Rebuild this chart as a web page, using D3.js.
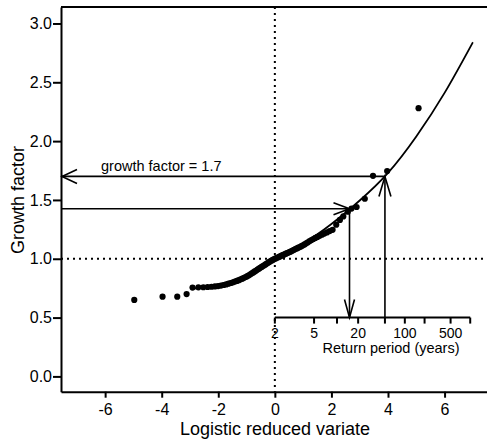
<!DOCTYPE html>
<html>
<head>
<meta charset="utf-8">
<script src="https://cdn.jsdelivr.net/npm/d3@7"></script>
<style>
  html, body { margin: 0; padding: 0; background: #fff; }
  svg { display: block; font-family: "Liberation Sans", Arial, Helvetica, sans-serif; }
</style>
</head>
<body>
<svg id="chart" width="487" height="440"></svg>
<script>
// Sample growth factors plotted against the logistic reduced variate
const obsX = [
  -4.97, -3.97, -3.45, -3.12,
  -2.910, -2.703, -2.528, -2.376, -2.241, -2.119, -2.008, -1.906, -1.811, -1.722,
  -1.638, -1.558, -1.483, -1.411, -1.342, -1.275, -1.211, -1.150, -1.090, -1.032,
  -0.975, -0.920, -0.866, -0.813, -0.761, -0.711, -0.661, -0.612, -0.563, -0.516,
  -0.468, -0.422, -0.375, -0.330, -0.284, -0.239, -0.194, -0.149, -0.105, -0.060,
  -0.016, 0.029, 0.073, 0.118, 0.163, 0.207, 0.252, 0.298, 0.343, 0.389,
  0.436, 0.483, 0.530, 0.578, 0.626, 0.676, 0.726, 0.777, 0.829, 0.882,
  0.936, 0.992, 1.049, 1.108, 1.168, 1.230, 1.295, 1.362, 1.432, 1.505,
  1.582, 1.662, 1.748, 1.839, 1.936, 2.041,
  2.17, 2.30, 2.42, 2.58, 2.71, 2.89, 3.18, 3.47, 3.97, 5.08
];
const obsY = [
  0.650, 0.678, 0.678, 0.700,
  0.755, 0.757, 0.758, 0.760, 0.762, 0.765, 0.768, 0.772, 0.777, 0.782,
  0.788, 0.794, 0.800, 0.806, 0.812, 0.818, 0.825, 0.831, 0.838, 0.845,
  0.852, 0.860, 0.868, 0.876, 0.884, 0.892, 0.900, 0.908, 0.916, 0.923,
  0.931, 0.938, 0.945, 0.952, 0.959, 0.966, 0.973, 0.980, 0.986, 0.992,
  0.998, 1.003, 1.008, 1.013, 1.018, 1.023, 1.028, 1.033, 1.038, 1.043,
  1.048, 1.053, 1.058, 1.064, 1.070, 1.076, 1.082, 1.088, 1.094, 1.100,
  1.107, 1.114, 1.122, 1.131, 1.140, 1.150, 1.159, 1.168, 1.177, 1.186,
  1.195, 1.204, 1.214, 1.224, 1.235, 1.246,
  1.290, 1.330, 1.360, 1.400, 1.427, 1.440, 1.510, 1.705, 1.745, 2.280
];

// Fitted growth curve
const fitX = [-2.9, -2, -1, 0, 1, 2, 3, 4, 5, 6, 7];
const fitY = [0.745, 0.78, 0.862, 1.0, 1.13, 1.295, 1.495, 1.73, 2.04, 2.41, 2.84];

// Axis ticks
const xTicks = [-6, -4, -2, 0, 2, 4, 6];
const yTicks = [0, 0.5, 1.0, 1.5, 2.0, 2.5, 3.0];
const returnTicks = [2, 5, 10, 20, 50, 100, 200, 500, 1000];
const returnLabels = [2, 5, 20, 100, 500];

// Read-off examples: return period (years) and growth factor
const readPeriods = [15, 50];
const readFactors = [1.425, 1.7];
const readNote = "growth factor = 1.7";

const svg = d3.select("#chart");
const plotL = 61, plotR = 487, plotT = 7, plotB = 391.7;

const x = d3.scaleLinear().domain([-7.56, 7.5]).range([plotL, plotR]);
const y = d3.scaleLinear().domain([-0.13, 3.14]).range([plotB, plotT]);
// return period T maps onto the logistic reduced variate ln(T - 1)
const xT = T => x(Math.log(T - 1));

// frame top
svg.append("line")
  .attr("x1", plotL).attr("x2", plotR + 2).attr("y1", plotT).attr("y2", plotT)
  .attr("stroke", "#000").attr("stroke-width", 2);

// reference lines at variate 0 and growth factor 1
svg.append("line")
  .attr("x1", x(0)).attr("x2", x(0)).attr("y1", plotT).attr("y2", plotB)
  .attr("stroke", "#000").attr("stroke-width", 2).attr("stroke-dasharray", "2,4");
svg.append("line")
  .attr("x1", plotL).attr("x2", plotR).attr("y1", y(1)).attr("y2", y(1))
  .attr("stroke", "#000").attr("stroke-width", 2).attr("stroke-dasharray", "2,4");

// axes
const yAxis = svg.append("g").attr("transform", `translate(${plotL},0)`)
  .call(d3.axisLeft(y).tickValues(yTicks).tickFormat(d3.format(".1f"))
    .tickSize(8).tickSizeOuter(0).tickPadding(1));
const xAxis = svg.append("g").attr("transform", `translate(0,${plotB})`)
  .call(d3.axisBottom(x).tickValues(xTicks).tickFormat(d => d)
    .tickSize(6).tickSizeOuter(0).tickPadding(6));
[yAxis, xAxis].forEach(g => {
  g.select(".domain").attr("stroke-width", 2);
  g.selectAll(".tick line").attr("stroke-width", 2);
  g.selectAll(".tick text").attr("font-size", 16).attr("fill", "#000")
    .attr("font-family", "Liberation Sans, Arial, sans-serif");
});

// axis titles
svg.append("text")
  .attr("x", 275).attr("y", 435).attr("text-anchor", "middle")
  .attr("font-size", 18).text("Logistic reduced variate");
svg.append("text")
  .attr("transform", "translate(24,200) rotate(-90)")
  .attr("text-anchor", "middle").attr("font-size", 18).text("Growth factor");

// fitted curve
const line = d3.line().x(d => x(d[0])).y(d => y(d[1])).curve(d3.curveNatural);
svg.append("path")
  .datum(fitX.map((v, i) => [v, fitY[i]]))
  .attr("d", line).attr("fill", "none").attr("stroke", "#000").attr("stroke-width", 1.8);

// observations
svg.append("g").selectAll("circle")
  .data(obsX.map((v, i) => [v, obsY[i]]))
  .join("circle")
  .attr("cx", d => x(d[0])).attr("cy", d => y(d[1])).attr("r", 3.1).attr("fill", "#000");

// return period scale, drawn at growth factor 0.5
const gT = svg.append("g");
const yR = y(0.5);
gT.append("line")
  .attr("x1", xT(2)).attr("x2", xT(1000)).attr("y1", yR).attr("y2", yR)
  .attr("stroke", "#000").attr("stroke-width", 2);
gT.selectAll("line.tick").data(returnTicks).join("line").attr("class", "tick")
  .attr("x1", d => xT(d)).attr("x2", d => xT(d))
  .attr("y1", yR).attr("y2", yR + 6)
  .attr("stroke", "#000").attr("stroke-width", 2);
gT.selectAll("text.lab").data(returnLabels).join("text").attr("class", "lab")
  .attr("x", d => xT(d)).attr("y", yR + 20).attr("text-anchor", "middle")
  .attr("font-size", 14).text(d => d);
gT.append("text")
  .attr("x", 391).attr("y", yR + 35).attr("text-anchor", "middle")
  .attr("font-size", 14.5).text("Return period (years)");

// read-off arrows
function arrowHead(tx, ty, dx, dy, len, half) {
  const bx = tx - dx * len, by = ty - dy * len;
  const px = -dy * half, py = dx * half;
  return `M${bx + px},${by + py}L${tx},${ty}L${bx - px},${by - py}`;
}
const arrows = svg.append("g").attr("fill", "none").attr("stroke", "#000").attr("stroke-width", 1.6);

// growth factor -> return period
const ax1 = xT(readPeriods[0]), ay1 = y(readFactors[0]);
arrows.append("path").attr("d", `M${plotL},${ay1}H${ax1}`);
arrows.append("path").attr("d", arrowHead(ax1, ay1, 1, 0, 16, 6));
arrows.append("path").attr("d", `M${ax1},${ay1}V${yR}`);
arrows.append("path").attr("d", arrowHead(ax1, yR, 0, 1, 18, 5));

// return period -> growth factor
const ax2 = xT(readPeriods[1]), ay2 = y(readFactors[1]);
arrows.append("path").attr("d", `M${ax2},${yR}V${ay2}`);
arrows.append("path").attr("d", arrowHead(ax2, ay2, 0, -1, 20, 6));
arrows.append("path").attr("d", `M${ax2},${ay2}H${plotL}`);
arrows.append("path").attr("d", arrowHead(plotL + 1, ay2, -1, 0, 15, 7));

svg.append("text")
  .attr("x", 101).attr("y", ay2 - 5).attr("font-size", 14.5).text(readNote);
</script>
</body>
</html>
